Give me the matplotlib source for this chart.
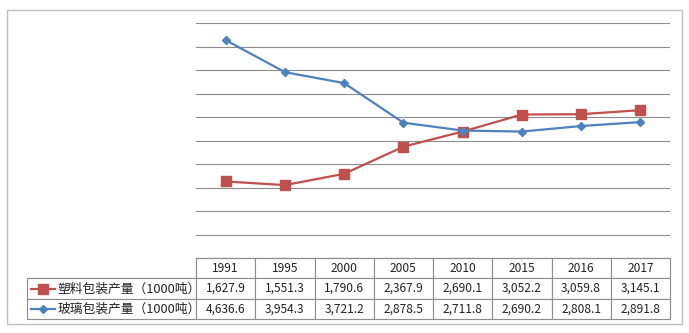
import numpy as np
import matplotlib.pyplot as plt
from matplotlib.lines import Line2D
from matplotlib.patches import Rectangle

plt.rcParams['font.family'] = ['Noto Sans CJK SC', 'DejaVu Sans']

years = ['1991', '1995', '2000', '2005', '2010', '2015', '2016', '2017']
plastic = [1627.9, 1551.3, 1790.6, 2367.9, 2690.1, 3052.2, 3059.8, 3145.1]
glass = [4636.6, 3954.3, 3721.2, 2878.5, 2711.8, 2690.2, 2808.1, 2891.8]
labels = ['塑料包装产量（1000吨）', '玻璃包装产量（1000吨）']

W, H = 689, 333
fig = plt.figure(figsize=(W / 100, H / 100), dpi=100)

# plot area in pixels: x 196-670, y 23-258
ax = fig.add_axes([196 / W, 1 - 258 / H, 474 / W, 235 / H])

styles = [dict(color='#C0504D', marker='s', markersize=7, lw=1.6),
          dict(color='#4F81BD', marker='D', markersize=4.5, lw=1.6)]

x = np.arange(len(years))
ax.plot(x, plastic, **styles[0], zorder=3)
ax.plot(x, glass, **styles[1], zorder=3)

ax.set_xlim(-0.5, len(years) - 0.5)
ax.set_ylim(0, 5000)
ax.set_yticks(np.arange(0, 5001, 500))
ax.grid(axis='y', color='#8C8C8C', lw=0.8)
ax.tick_params(left=False, labelleft=False, bottom=False, labelbottom=False)
for s in ['top', 'right', 'left']:
    ax.spines[s].set_visible(False)
ax.spines['bottom'].set_color('#8C8C8C')

# data table under the plot
rows = [[''] + years,
        [''] + ['{:,.1f}'.format(v) for v in plastic],
        [''] + ['{:,.1f}'.format(v) for v in glass]]
tb = ax.table(cellText=rows, cellLoc='center',
              colWidths=[169] + [474 / 8] * 8,
              bbox=[-169 / 474, -61 / 235, 643 / 474, 61 / 235])
tb.auto_set_font_size(False)
for (r, c), cell in tb.get_celld().items():
    cell.set_edgecolor('#8C8C8C')
    cell.set_linewidth(0.8)
    cell.get_text().set_fontsize(8.6)
    cell.get_text().set_color('#222222')
tb[0, 0].visible_edges = 'BR'

# legend keys + row labels
row_y = [289, 309]
for i, lab in enumerate(labels):
    yf = 1 - row_y[i] / H
    fig.add_artist(Line2D([31 / W, 55 / W], [yf, yf], transform=fig.transFigure,
                          color=styles[i]['color'], lw=styles[i]['lw']))
    fig.add_artist(Line2D([43 / W], [yf], transform=fig.transFigure,
                          color=styles[i]['color'], marker=styles[i]['marker'],
                          markersize=styles[i]['markersize'] - 0.5))
    fig.text(57 / W, yf, lab, fontsize=9.2, va='center', ha='left', color='#222222')

# outer chart border
fig.add_artist(Rectangle((7 / W, 1 - 324 / H), 675 / W, 314 / H, transform=fig.transFigure,
                         fill=False, edgecolor='#BFBFBF', lw=1))

fig.savefig('out.png', dpi=100)
